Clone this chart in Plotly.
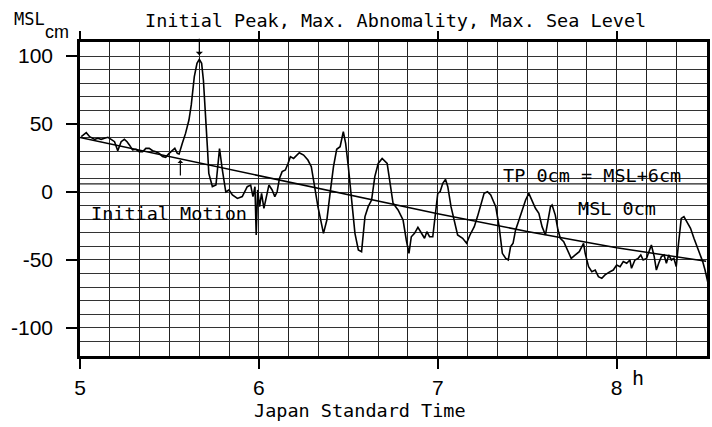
import plotly.graph_objects as go

# Observed sea level (cm from MSL) vs Japan Standard Time (hours)
obs_time = [5.007, 5.035, 5.054, 5.082, 5.100, 5.118, 5.137, 5.156, 5.174, 5.193,
            5.211, 5.230, 5.248, 5.263, 5.276, 5.294, 5.313, 5.331, 5.350, 5.368,
            5.387, 5.406, 5.424, 5.443, 5.461, 5.479, 5.498, 5.517, 5.530, 5.544,
            5.554, 5.572, 5.590, 5.609, 5.622, 5.639, 5.654, 5.667, 5.680, 5.690,
            5.704, 5.713, 5.720, 5.740, 5.760, 5.780, 5.796, 5.815, 5.833, 5.852,
            5.880, 5.907, 5.935, 5.954, 5.967, 5.978, 5.985, 5.993, 6.004, 6.015,
            6.028, 6.041, 6.056, 6.074, 6.089, 6.102, 6.115, 6.130, 6.148, 6.163,
            6.176, 6.194, 6.226, 6.250, 6.274, 6.293, 6.311, 6.330, 6.361, 6.380,
            6.398, 6.417, 6.435, 6.454, 6.472, 6.485, 6.500, 6.519, 6.537, 6.556,
            6.574, 6.593, 6.611, 6.630, 6.648, 6.667, 6.689, 6.717, 6.731, 6.750,
            6.778, 6.806, 6.824, 6.839, 6.852, 6.870, 6.889, 6.907, 6.926, 6.939,
            6.954, 6.972, 6.987, 7.000, 7.013, 7.028, 7.043, 7.056, 7.074, 7.093,
            7.111, 7.139, 7.161, 7.180, 7.204, 7.222, 7.241, 7.259, 7.278, 7.296,
            7.324, 7.343, 7.361, 7.380, 7.394, 7.407, 7.421, 7.435, 7.454, 7.472,
            7.491, 7.509, 7.528, 7.546, 7.565, 7.583, 7.602, 7.630, 7.639, 7.657,
            7.672, 7.685, 7.704, 7.722, 7.746, 7.769, 7.791, 7.815, 7.824, 7.843,
            7.861, 7.880, 7.898, 7.917, 7.935, 7.963, 7.981, 8.000, 8.019, 8.037,
            8.056, 8.074, 8.083, 8.102, 8.120, 8.135, 8.148, 8.167, 8.180, 8.194,
            8.210, 8.222, 8.235, 8.250, 8.265, 8.278, 8.291, 8.306, 8.320, 8.333,
            8.346, 8.361, 8.376, 8.394, 8.413, 8.432, 8.450, 8.468, 8.481, 8.494,
            8.509]
obs_level = [40.7, 43.6, 40.7, 38.7, 39.5, 38.7, 39.5, 40.2, 38.7, 37.0,
             30.4, 37.0, 38.7, 37.0, 34.6, 30.9, 31.4, 29.6, 29.6, 32.1,
             32.1, 30.4, 29.6, 28.4, 26.0, 25.5, 28.4, 30.9, 32.1, 28.4,
             27.9, 35.8, 43.1, 52.9, 64.0, 84.8, 94.6, 97.5, 94.6, 82.0,
             55.0, 31.0, 13.7, 4.0, 5.1, 32.0, 16.0, 0.0, 1.5, -2.2,
             -4.7, -3.4, 3.9, 5.1, -3.4, 3.9, -31.6, 1.5, -10.8, -1.0,
             -12.0, -3.4, 5.1, 1.5, -3.4, 0.2, 10.0, 15.0, 16.2, 21.0,
             26.0, 24.7, 28.9, 27.2, 23.5, 18.6, 3.9, -10.8, -30.4, -20.6,
             -1.0, 18.6, 31.4, 33.3, 44.3, 35.8, 18.6, -5.9, -30.4, -42.6,
             -43.9, -18.1, -10.8, -5.9, 11.3, 21.0, 24.7, 21.0, 8.8, -8.3,
             -13.2, -20.6, -35.3, -45.1, -32.9, -30.4, -26.0, -30.4, -34.0, -29.2,
             -32.9, -32.9, -13.2, -1.0, 0.2, 6.4, 9.3, 3.9, -10.8, -20.6,
             -31.6, -34.0, -37.7, -31.6, -25.5, -18.1, -8.3, -1.0, 0.2, -2.2,
             -10.8, -25.5, -45.1, -48.8, -50.0, -40.2, -37.7, -27.9, -20.6, -13.2,
             -5.9, -1.0, -7.1, -12.0, -15.7, -25.5, -31.6, -10.8, -9.6, -17.0,
             -28.0, -34.0, -36.5, -41.4, -48.8, -46.3, -43.9, -37.7, -45.1, -54.9,
             -58.6, -57.4, -62.3, -63.5, -61.0, -58.6, -57.4, -53.7, -54.9, -51.2,
             -52.4, -50.0, -56.1, -50.0, -48.8, -46.3, -50.0, -48.8, -43.9, -39.0,
             -47.5, -57.4, -52.4, -47.5, -46.3, -52.4, -46.3, -50.0, -48.8, -54.9,
             -37.7, -19.4, -18.1, -21.8, -26.7, -34.0, -40.2, -47.5, -51.2, -57.4,
             -66.0]

# Predicted (astronomical) tide
tide_time = [5.0, 5.5, 6.0, 6.5, 7.0, 7.5, 8.0, 8.5]
tide_level = [40, 26, 12, -2, -16, -29, -41, -51]

# Reference levels and ticks
tp_offset = 6  # TP 0cm = MSL + 6cm
x_ticks = [5, 6, 7, 8]
x_tick_labels = ["5", "6", "7", "8"]
y_ticks = [-100, -50, 0, 50, 100]
y_tick_labels = ["-100", "-50", "0", "50", "100"]
x_range = [5, 8.505]
y_range = [-120.6, 110.3]

MONO = "DejaVu Sans Mono"
SANS = "Liberation Sans"

fig = go.Figure()
fig.add_trace(go.Scatter(x=[x_range[0], x_range[1]], y=[tp_offset, tp_offset],
                         mode="lines", line=dict(color="#222", width=1.3),
                         hoverinfo="skip", showlegend=False))
fig.add_trace(go.Scatter(x=tide_time, y=tide_level, mode="lines",
                         line=dict(color="black", width=1.5), showlegend=False,
                         xaxis="x2"))
fig.add_trace(go.Scatter(x=obs_time, y=obs_level, mode="lines",
                         line=dict(color="black", width=1.6), showlegend=False))

L, R, T, B = 80, 2, 42, 71
W, H = 712, 427
pw = W - L - R
ph = H - T - B


def px(x):
    return (x - L) / pw


def py(y):
    return (H - B - y) / ph


def txt(s, x, y, size=18.5, font=MONO, xanchor="center"):
    fig.add_annotation(text=s, x=px(x), y=py(y), xref="paper", yref="paper",
                       showarrow=False, xanchor=xanchor, yanchor="middle",
                       font=dict(family=font, size=size, color="black"))


txt("Initial Peak, Max. Abnomality, Max. Sea Level", 397, 20)
txt("MSL", 29, 19, size=17)
txt("cm", 57, 32, size=18, font=SANS)
txt("Initial Motion", 169, 213)
txt("TP 0cm = MSL+6cm", 594, 175)
txt("MSL 0cm", 620, 208)
txt("Japan Standard Time", 361, 410)
txt("h", 641, 378, size=20)

# Arrows marking initial peak and initial motion
fig.add_annotation(x=5.667, y=100.5, ax=0, ay=-18, showarrow=True,
                   arrowhead=1, arrowsize=1, arrowwidth=1.2, arrowcolor="black",
                   text="")
fig.add_annotation(x=5.561, y=23.5, ax=0, ay=17, showarrow=True,
                   arrowhead=1, arrowsize=0.8, arrowwidth=1.2, arrowcolor="black",
                   text="")

fig.update_layout(
    width=W, height=H,
    margin=dict(l=L, r=R, t=T, b=B),
    paper_bgcolor="white", plot_bgcolor="white",
    showlegend=False,
    xaxis=dict(range=x_range, tickvals=x_ticks, ticktext=x_tick_labels,
               ticks="outside", ticklen=10, tickwidth=1.5, tickcolor="black",
               showgrid=True, gridcolor="#222", gridwidth=1,
               minor=dict(dtick=1/6, tick0=5, showgrid=True, gridcolor="#222",
                          gridwidth=1, ticks=""),
               showline=True, linecolor="black", linewidth=2.5, mirror=True,
               zeroline=False, tickfont=dict(family=SANS, size=21, color="black"),
               ticklabelstandoff=1),
    xaxis2=dict(range=x_range, overlaying="x", side="top", tickvals=x_ticks,
                ticks="outside", ticklen=10, tickwidth=1.5, tickcolor="black",
                showticklabels=False, showgrid=False, zeroline=False,
                showline=False),
    yaxis=dict(range=y_range, tickvals=y_ticks, ticktext=y_tick_labels,
               ticks="outside", ticklen=11, tickwidth=1.5, tickcolor="black",
               showgrid=True, gridcolor="#333", gridwidth=1.3,
               minor=dict(dtick=10, tick0=0, showgrid=True, gridcolor="#333",
                          gridwidth=1.3, ticks=""),
               showline=True, linecolor="black", linewidth=2.5, mirror=True,
               zeroline=False, tickfont=dict(family=SANS, size=21, color="black"),
               ticklabelstandoff=9),
)

fig.write_html("out.html")
